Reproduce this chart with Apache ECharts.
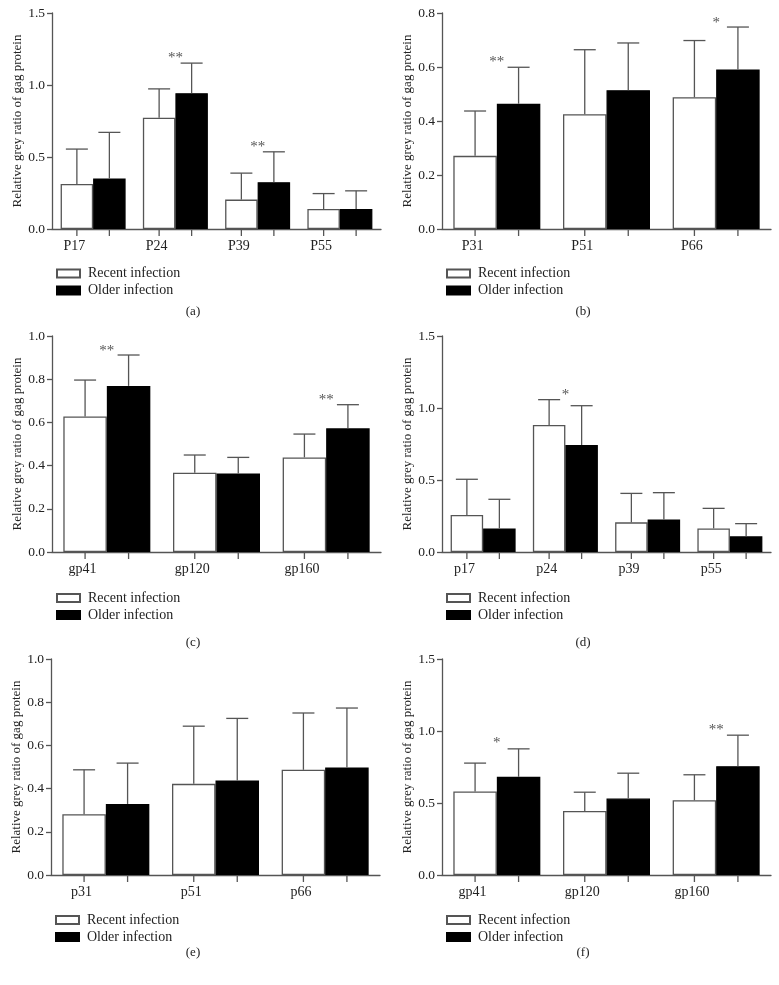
<!DOCTYPE html>
<html><head><meta charset="utf-8">
<script src="https://cdn.jsdelivr.net/npm/echarts@6/dist/echarts.min.js"></script>
<style>html,body{margin:0;padding:0;background:#fff}#c{width:779px;height:985px}</style>
</head><body><div id="c"></div>
<script>
// ---------- DATA ----------
const seriesNames = ['Recent infection', 'Older infection'];
const panelLabels = ['(a)', '(b)', '(c)', '(d)', '(e)', '(f)'];
const yAxisTitle = 'Relative grey ratio of gag protein';

// (a)
const catsA = ['P17', 'P24', 'P39', 'P55'];
const recentA = [0.313, 0.773, 0.204, 0.139];
const recentUpA = [0.555, 0.973, 0.388, 0.246];
const olderA = [0.351, 0.943, 0.325, 0.139];
const olderUpA = [0.671, 1.152, 0.536, 0.265];
const starsA = [[1, 1.205, 2], [2, 0.59, 2]];
const yMaxA = 1.5, yStepA = 0.5;

// (b)
const catsB = ['P31', 'P51', 'P66'];
const recentB = [0.271, 0.425, 0.488];
const recentUpB = [0.437, 0.664, 0.698];
const olderB = [0.464, 0.514, 0.591];
const olderUpB = [0.599, 0.689, 0.748];
const starsB = [[0, 0.629, 2], [2, 0.775, 1]];
const yMaxB = 0.8, yStepB = 0.2;

// (c)
const catsC = ['gp41', 'gp120', 'gp160'];
const recentC = [0.627, 0.367, 0.438];
const recentUpC = [0.796, 0.449, 0.546];
const olderC = [0.769, 0.364, 0.573];
const olderUpC = [0.912, 0.438, 0.682];
const starsC = [[0, 0.946, 2], [2, 0.719, 2]];
const yMaxC = 1.0, yStepC = 0.2;

// (d)
const catsD = ['p17', 'p24', 'p39', 'p55'];
const recentD = [0.257, 0.882, 0.206, 0.164];
const recentUpD = [0.505, 1.058, 0.407, 0.303];
const olderD = [0.164, 0.743, 0.225, 0.109];
const olderUpD = [0.366, 1.016, 0.412, 0.197];
const starsD = [[1, 1.113, 1]];
const yMaxD = 1.5, yStepD = 0.5;

// (e)
const catsE = ['p31', 'p51', 'p66'];
const recentE = [0.281, 0.422, 0.487];
const recentUpE = [0.487, 0.689, 0.750];
const olderE = [0.329, 0.437, 0.498];
const olderUpE = [0.518, 0.725, 0.773];
const starsE = [];
const yMaxE = 1.0, yStepE = 0.2;

// (f)
const catsF = ['gp41', 'gp120', 'gp160'];
const recentF = [0.580, 0.445, 0.519];
const recentUpF = [0.777, 0.575, 0.696];
const olderF = [0.682, 0.531, 0.756];
const olderUpF = [0.876, 0.707, 0.971];
const starsF = [[0, 0.934, 1], [2, 1.027, 2]];
const yMaxF = 1.5, yStepF = 0.5;

// ---------- LAYOUT / STYLE ----------
const panelsData = [
  [catsA, recentA, recentUpA, olderA, olderUpA, starsA, yMaxA, yStepA],
  [catsB, recentB, recentUpB, olderB, olderUpB, starsB, yMaxB, yStepB],
  [catsC, recentC, recentUpC, olderC, olderUpC, starsC, yMaxC, yStepC],
  [catsD, recentD, recentUpD, olderD, olderUpD, starsD, yMaxD, yStepD],
  [catsE, recentE, recentUpE, olderE, olderUpE, starsE, yMaxE, yStepE],
  [catsF, recentF, recentUpF, olderF, olderUpF, starsF, yMaxF, yStepF]
];
const layouts = [
  { left: 52, top: 13, legendLeft: 56, legendTop: 266.5, label: [193, 312] },
  { left: 442, top: 13, legendLeft: 446, legendTop: 266.5, label: [583, 312] },
  { left: 52, top: 336, legendLeft: 56, legendTop: 591, label: [193, 643] },
  { left: 442, top: 336, legendLeft: 446, legendTop: 591, label: [583, 643] },
  { left: 51, top: 659, legendLeft: 55, legendTop: 913, label: [193, 953] },
  { left: 442, top: 659, legendLeft: 446, legendTop: 913, label: [583, 953] }
];
const GW = 329, GH = 216;
const FONT = "'Liberation Serif', 'DejaVu Serif', 'Times New Roman', serif";
const LINE = '#555';
const TXT = '#222';
const LW = 1.3;
const CAP = 22;
const TICKLEN = 7;

const grids = [], xAxes = [], yAxes = [], series = [], legends = [], graphics = [];

panelsData.forEach((p, i) => {
  const [cats, rec, recUp, old, oldUp, stars, yMax, yStep] = p;
  const L = layouts[i];
  const bw = cats.length === 4 ? 32.5 : 43.5;
  grids.push({ left: L.left, top: L.top, width: GW, height: GH, containLabel: false, outerBoundsMode: 'none' });
  xAxes.push({
    type: 'category', gridIndex: i, data: cats, boundaryGap: true,
    axisLine: { lineStyle: { color: LINE, width: LW } },
    axisTick: { show: false },
    axisLabel: { margin: 10, fontFamily: FONT, fontSize: 14, color: TXT, padding: [0, bw + 5, 0, 0] },
    splitLine: { show: false }
  });
  yAxes.push({
    type: 'value', gridIndex: i, min: 0, max: yMax, interval: yStep,
    name: yAxisTitle, nameLocation: 'middle', nameGap: 28, nameRotate: 90,
    nameTextStyle: { fontFamily: FONT, fontSize: 13, color: TXT },
    axisLine: { show: true, lineStyle: { color: LINE, width: LW } },
    axisTick: { show: true, length: 5, lineStyle: { color: LINE, width: LW } },
    axisLabel: { margin: 7, fontFamily: FONT, fontSize: 13.5, color: TXT, formatter: v => v.toFixed(1) },
    splitLine: { show: false }
  });
  series.push({
    type: 'bar', name: seriesNames[0], xAxisIndex: i, yAxisIndex: i, data: rec,
    barWidth: bw, barGap: '0%', silent: true,
    itemStyle: { color: '#ffffff', borderColor: LINE, borderWidth: LW }
  });
  series.push({
    type: 'bar', name: seriesNames[1], xAxisIndex: i, yAxisIndex: i, data: old,
    barWidth: bw, barGap: '0%', silent: true,
    itemStyle: { color: '#000000', borderColor: '#000', borderWidth: LW }
  });
  const errData = rec.map((v, k) => [k, v, recUp[k], -1]).concat(old.map((v, k) => [k, v, oldUp[k], 1]));
  series.push({
    type: 'custom', xAxisIndex: i, yAxisIndex: i, data: errData, clip: false, silent: true, z: 5,
    renderItem: (params, api) => {
      const c0 = api.coord([api.value(0), api.value(1)]);
      const c1 = api.coord([api.value(0), api.value(2)]);
      const cb = api.coord([api.value(0), 0]);
      const x = c0[0] + api.value(3) * bw / 2;
      const st = { stroke: LINE, lineWidth: LW, fill: null };
      return {
        type: 'group', children: [
          { type: 'line', shape: { x1: x, y1: c0[1], x2: x, y2: c1[1] }, style: st },
          { type: 'line', shape: { x1: x - CAP / 2, y1: c1[1], x2: x + CAP / 2, y2: c1[1] }, style: st },
          { type: 'line', shape: { x1: x, y1: cb[1], x2: x, y2: cb[1] + TICKLEN }, style: st }
        ]
      };
    }
  });
  if (stars.length) {
    series.push({
      type: 'custom', xAxisIndex: i, yAxisIndex: i, data: stars, clip: false, silent: true, z: 6,
      renderItem: (params, api) => {
        const c = api.coord([api.value(0), api.value(1)]);
        return {
          type: 'text',
          style: {
            x: c[0], y: c[1] + 3, text: '*'.repeat(api.value(2)),
            fill: LINE, font: '15px ' + FONT, align: 'center', verticalAlign: 'middle'
          }
        };
      }
    });
  }
  legends.push({
    left: L.legendLeft, top: L.legendTop, orient: 'vertical', padding: 0,
    itemWidth: 23, itemHeight: 8, itemGap: 3, icon: 'rect', selectedMode: false,
    data: seriesNames,
    textStyle: { fontFamily: FONT, fontSize: 14, color: TXT, lineHeight: 14, padding: [0, 0, 0, 3] }
  });
  graphics.push({
    type: 'text', x: L.label[0], y: L.label[1],
    style: { text: panelLabels[i], font: '13px ' + FONT, fill: TXT, align: 'center', verticalAlign: 'middle' }
  });
});

const chart = echarts.init(document.getElementById('c'), null, { renderer: 'canvas' });
chart.setOption({
  backgroundColor: '#ffffff',
  animation: false,
  grid: grids, xAxis: xAxes, yAxis: yAxes, series: series, legend: legends,
  graphic: graphics
});
</script>
</body></html>
